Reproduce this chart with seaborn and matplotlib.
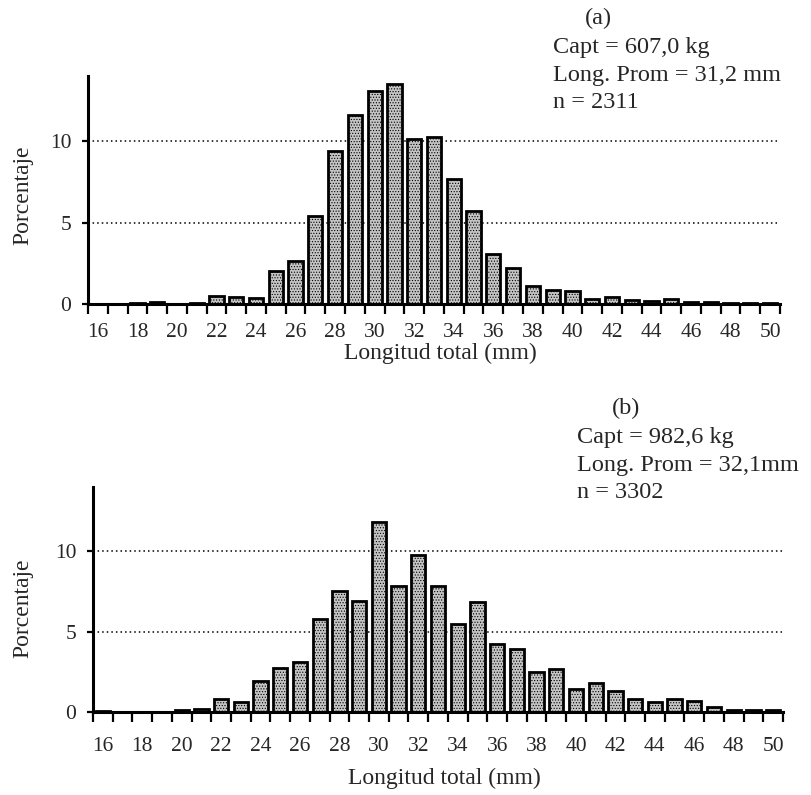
import matplotlib
matplotlib.use("Agg")
import matplotlib.pyplot as plt
import seaborn as sns
import numpy as np
import pandas as pd

# ---- data ----
lengths = list(range(16, 51))
pct_a = [0.02, 0.0, 0.05, 0.12, 0.02, 0.05, 0.47, 0.43, 0.37, 2.04, 2.65, 5.4,
         9.4, 11.63, 13.06, 13.5, 10.14, 10.24, 7.65, 5.7, 3.05, 2.2, 1.08,
         0.87, 0.81, 0.3, 0.45, 0.24, 0.2, 0.3, 0.15, 0.1, 0.08, 0.08, 0.05]
pct_b = [0.08, 0.0, 0.03, 0.0, 0.1, 0.2, 0.78, 0.6, 1.95, 2.73, 3.1, 5.8,
         7.5, 6.9, 11.85, 7.86, 9.75, 7.85, 5.5, 6.85, 4.25, 3.9, 2.5, 2.7,
         1.45, 1.8, 1.3, 0.8, 0.65, 0.8, 0.7, 0.3, 0.1, 0.1, 0.12]
xtick_labels = list(range(16, 51, 2))
yticks = [0, 5, 10]
panel_tags = ["(a)", "(b)"]
notes_a = ["Capt = 607,0 kg", "Long. Prom = 31,2 mm", "n = 2311"]
notes_b = ["Capt = 982,6 kg", "Long. Prom = 32,1mm", "n = 3302"]
xlabel = "Longitud total (mm)"
ylabel = "Porcentaje"

sns.set_style("ticks")
plt.rcParams["font.family"] = ["Liberation Serif", "DejaVu Serif"]
plt.rcParams["hatch.linewidth"] = 0.5

W, H = 811, 795
fig = plt.figure(figsize=(W / 100, H / 100), dpi=100)


def px_axes(left, right, top, bottom):
    return fig.add_axes([left / W, 1 - bottom / H, (right - left) / W, (bottom - top) / H])


def draw_panel(ax, vals, xpad):
    df = pd.DataFrame({"len": lengths, "pct": vals})
    sns.barplot(data=df, x="len", y="pct", native_scale=True, width=0.72,
                color="#c4c4c4", edgecolor="black", linewidth=2.0,
                saturation=1, ax=ax, errorbar=None)
    for p in ax.patches:
        p.set_hatch("......")
    ax.set_xlim(15.5, 50.5)
    ax.set_ylim(0, 14)
    ax.set_axisbelow(True)
    for y in [5, 10]:
        ax.axhline(y, color="black", linestyle=(0, (1, 2)), linewidth=1.1, zorder=0)
    ax.set_xticks(xtick_labels)
    ax.set_xticklabels([str(v) for v in xtick_labels], fontsize=15.5)
    ax.set_xticks(np.arange(15.5, 51.0, 1.0), minor=True)
    ax.tick_params(axis="x", which="major", length=0, pad=xpad)
    ax.tick_params(axis="x", which="minor", length=7, width=1.6, direction="out", color="black")
    ax.set_yticks(yticks)
    ax.set_yticklabels([str(v) for v in yticks], fontsize=15.5)
    ax.tick_params(axis="y", length=4, width=1.6, pad=8, color="black")
    for s in ["top", "right"]:
        ax.spines[s].set_visible(False)
    for s in ["left", "bottom"]:
        ax.spines[s].set_linewidth(2.2)
        ax.spines[s].set_color("black")
    ax.set_xlabel("")
    ax.set_ylabel("")


ax_a = px_axes(88, 780, 76, 304)
draw_panel(ax_a, pct_a, 14)
ax_b = px_axes(93, 783, 487, 712)
draw_panel(ax_b, pct_b, 18)

fs_note = 17.5
# panel (a) texts
fig.text(598 / W, 1 - 18 / H, panel_tags[0], ha="center", va="center", fontsize=fs_note)
for i, t in enumerate(notes_a):
    fig.text(553 / W, 1 - (47 + 28 * i) / H, t, ha="left", va="center", fontsize=fs_note)
fig.text(440 / W, 1 - 353 / H, xlabel, ha="center", va="center", fontsize=17)
fig.text(23 / W, 1 - 195 / H, ylabel, ha="center", va="center", rotation=90, fontsize=17)

# panel (b) texts
fig.text(626 / W, 1 - 408 / H, panel_tags[1], ha="center", va="center", fontsize=fs_note)
for i, t in enumerate(notes_b):
    fig.text(577 / W, 1 - (437 + 28 * i) / H, t, ha="left", va="center", fontsize=fs_note)
fig.text(444 / W, 1 - 778 / H, xlabel, ha="center", va="center", fontsize=17)
fig.text(23 / W, 1 - 608 / H, ylabel, ha="center", va="center", rotation=90, fontsize=17)

fig.savefig("out.png", dpi=100)
